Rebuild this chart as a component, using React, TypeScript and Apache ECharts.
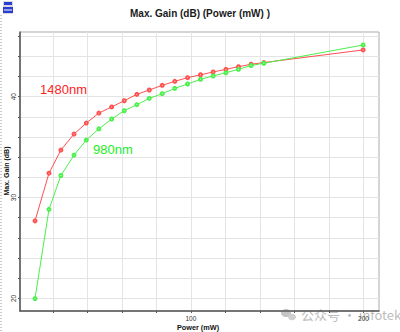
import React, { useEffect, useRef } from "react";
import * as echarts from "echarts";

const powerMW = [9.7, 17.8, 24.7, 32.3, 39.4, 46.7, 54.1, 61.4, 68.7, 75.9, 83.4, 90.7, 98.1, 105.6, 112.9, 120.3, 127.6, 134.9, 142.3, 199.8];
const gain1480 = [27.69, 32.42, 34.71, 36.3, 37.39, 38.38, 38.99, 39.6, 40.24, 40.67, 41.13, 41.53, 41.89, 42.18, 42.45, 42.72, 42.98, 43.22, 43.39, 44.64];
const gain980 = [19.98, 28.83, 32.19, 34.21, 35.7, 36.81, 37.79, 38.61, 39.21, 39.84, 40.3, 40.83, 41.26, 41.73, 42.06, 42.38, 42.72, 43.1, 43.32, 45.13];
const xTicks = [20, 40, 60, 80, 100, 120, 140, 160, 180, 200];
const xLabels = [100, 200];
const yTicks = [20, 22, 24, 26, 28, 30, 32, 34, 36, 38, 40, 42, 44, 46];
const yLabels = [20, 30, 40];
const seriesNames = ["1480nm", "980nm"];
const xTitle = "Power (mW)";
const yTitle = "Max. Gain (dB)";

export default function App() {
  const ref = useRef<HTMLDivElement>(null);
  useEffect(() => {
    if (!ref.current) return;
    const chart = echarts.init(ref.current, null, { renderer: "svg" });
    const font = "Liberation Sans, Arial, sans-serif";
    chart.setOption({
      animation: false,
      backgroundColor: "#ffffff",
      title: {
        text: "Max. Gain (dB) (Power (mW) )",
        left: "center",
        top: 3,
        textStyle: { fontFamily: font, fontSize: 10, fontWeight: "bold", color: "#1a1a1a" },
      },
      grid: { left: 20, top: 32, width: 359, height: 279, containLabel: false, outerBoundsMode: "none", show: true, borderColor: "#aaaaaa", borderWidth: 1, backgroundColor: "transparent" },
      xAxis: {
        type: "value",
        min: 1,
        max: 209,
        axisLine: { show: true, onZero: false, lineStyle: { color: "#555", width: 1.5 } },
        axisTick: { show: true, length: 2, customValues: xTicks, lineStyle: { color: "#555" } },
        axisLabel: { customValues: xLabels, fontFamily: font, fontSize: 6.5, color: "#333", margin: 4 },
        splitLine: { show: true, lineStyle: { color: "#e4e4e4", width: 1 } },
      },
      yAxis: {
        type: "value",
        min: 18.75,
        max: 46.42,
        axisLine: { show: true, onZero: false, lineStyle: { color: "#555", width: 1.5 } },
        axisTick: { show: true, length: 2, customValues: yTicks, lineStyle: { color: "#555" } },
        axisLabel: { customValues: yLabels, rotate: 90, fontFamily: font, fontSize: 6.5, color: "#333", margin: 3 },
        splitLine: { show: true, lineStyle: { color: "#e4e4e4", width: 1 } },
      },
      series: [
        {
          name: seriesNames[0],
          type: "line",
          data: powerMW.map((x, i) => [x, gain1480[i]]),
          symbol: "emptyCircle",
          symbolSize: 3,
          lineStyle: { color: "#ff5050", width: 1 },
          itemStyle: { color: "#ff5050", borderWidth: 0.9 },
        },
        {
          name: seriesNames[1],
          type: "line",
          data: powerMW.map((x, i) => [x, gain980[i]]),
          symbol: "emptyCircle",
          symbolSize: 3,
          lineStyle: { color: "#4cf04c", width: 1 },
          itemStyle: { color: "#4cf04c", borderWidth: 0.9 },
        },
      ],
      graphic: [
        { type: "text", x: 198, y: 327, style: { text: xTitle, fill: "#111", font: `bold 7.3px ${font}`, align: "center", verticalAlign: "middle" } },
        { type: "text", x: 6, y: 171, rotation: Math.PI / 2, style: { text: yTitle, fill: "#111", font: `bold 7px ${font}`, align: "center", verticalAlign: "middle" } },
        { type: "text", left: 40, top: 83, style: { text: seriesNames[0], fill: "#ff2222", font: `13px ${font}` } },
        { type: "text", left: 93, top: 143, style: { text: seriesNames[1], fill: "#22ee22", font: `13px ${font}` } },
        { type: "line", shape: { x1: 1, y1: 15, x2: 1, y2: 332 }, style: { stroke: "#999", lineWidth: 1, lineDash: [1, 2] } },
        { type: "rect", shape: { x: 3, y: 1, width: 10, height: 13 }, style: { fill: "#d8d8e0" } },
        { type: "rect", shape: { x: 4, y: 2, width: 8, height: 3 }, style: { fill: "#2a3ccf" } },
        { type: "rect", shape: { x: 3, y: 7, width: 10, height: 6 }, style: { fill: "#2a3ccf" } },
        { type: "rect", shape: { x: 4, y: 9.5, width: 8, height: 1 }, style: { fill: "#ffffff" } },
        { type: "ellipse", shape: { cx: 286, cy: 313, rx: 5, ry: 4 }, style: { fill: "#c4c4c4" } },
        { type: "ellipse", shape: { cx: 292, cy: 317, rx: 4, ry: 3.3 }, style: { fill: "#cfcfcf" } },
        { type: "text", left: 301, top: 308, style: { text: "公众号 · infotek", fill: "rgba(165,165,165,0.75)", font: `13px "Noto Sans CJK SC", ${font}` } },
      ],
    });
    return () => chart.dispose();
  }, []);
  return <div ref={ref} style={{ position: "fixed", left: 0, top: 0, width: 400, height: 332 }} />;
}
